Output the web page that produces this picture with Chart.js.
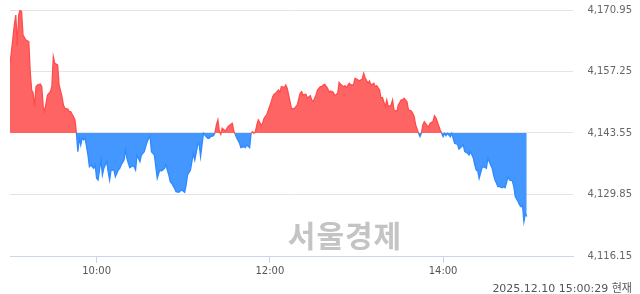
<!DOCTYPE html>
<html lang="ko">
<head>
<meta charset="utf-8">
<title>Index intraday</title>
<script src="https://cdn.jsdelivr.net/npm/chart.js@4.4.1/dist/chart.umd.min.js"></script>
<style>
    html, body { margin: 0; padding: 0; background: #ffffff; }
    .chart-wrap { position: relative; width: 640px; height: 294px; }
    .watermark {
        position: absolute; left: 245px; top: 212px; width: 200px; text-align: center;
        font-family: 'Noto Sans CJK KR', sans-serif; font-weight: 700; font-size: 30px;
        color: #c4c4c4; letter-spacing: 1px; pointer-events: none;
    }
    .stamp {
        position: absolute; right: 8px; top: 279px;
        font-family: 'DejaVu Sans', 'Noto Sans CJK KR', sans-serif; font-size: 11px;
        color: #555555; white-space: nowrap;
    }
</style>
</head>
<body>
<div class="chart-wrap">
    <canvas id="indexChartCanvas" width="640" height="294"></canvas>
    <div class="watermark">서울경제</div>
    <div class="stamp">2025.12.10 15:00:29 현재</div>
</div>
<script>
// Minutes after the 09:00 open, and the index value at that minute
const minutes = [
    0, 1, 3, 4, 5, 6, 7, 8, 9, 11,
    13, 14, 15, 16, 17, 18, 19, 21, 22, 23,
    24, 25, 26, 28, 29, 30, 31, 33, 34, 36,
    37, 38, 40, 41, 42, 44, 45, 46, 47, 48,
    49, 50, 51, 52, 54, 55, 56, 58, 59, 60,
    61, 63, 64, 65, 67, 68, 69, 70, 72, 73,
    75, 76, 77, 79, 80, 81, 82, 83, 85, 86,
    87, 88, 90, 91, 93, 94, 95, 97, 98, 99,
    100, 102, 103, 104, 105, 107, 108, 110, 111, 112,
    114, 115, 117, 118, 119, 121, 122, 123, 125, 126,
    127, 128, 130, 131, 132, 133, 134, 135, 137, 138,
    139, 141, 142, 143, 144, 145, 146, 147, 149, 150,
    151, 153, 154, 155, 156, 157, 159, 160, 162, 163,
    164, 166, 167, 168, 169, 170, 171, 172, 174, 175,
    176, 178, 179, 181, 182, 183, 184, 186, 187, 188,
    190, 191, 192, 194, 195, 197, 198, 199, 201, 202,
    203, 205, 206, 208, 209, 210, 212, 213, 215, 216,
    217, 218, 220, 221, 222, 224, 225, 227, 228, 229,
    231, 232, 233, 235, 236, 238, 239, 240, 242, 244,
    245, 246, 248, 249, 250, 252, 253, 254, 256, 257,
    258, 260, 261, 262, 264, 265, 266, 268, 269, 271,
    272, 273, 275, 276, 278, 279, 280, 281, 283, 284,
    285, 286, 287, 289, 290, 291, 293, 294, 295, 296,
    298, 299, 300, 301, 302, 303, 305, 306, 307, 308,
    310, 311, 312, 314, 315, 317, 318, 319, 321, 322,
    323, 324, 325, 327, 328, 330, 331, 332, 334, 335,
    336, 338, 339, 341, 342, 343, 345, 346, 348, 349,
    350, 352, 353, 354, 355, 356, 357, 358
];
const indexValues = [
    4159.08, 4161.66, 4167.61, 4169.84, 4163.00, 4169.84, 4170.95, 4170.57, 4165.38, 4164.27,
    4163.89, 4157.21, 4153.13, 4152.46, 4149.41, 4153.87, 4154.24, 4154.47, 4153.87, 4149.41,
    4148.30, 4150.23, 4152.02, 4152.75, 4153.87, 4160.55, 4159.08, 4158.70, 4154.24, 4151.64,
    4149.79, 4149.05, 4148.90, 4148.30, 4148.30, 4147.18, 4146.45, 4143.55, 4139.39, 4142.44,
    4140.88, 4142.44, 4141.99, 4142.44, 4138.65, 4136.04, 4136.42, 4135.69, 4136.42, 4133.46,
    4133.08, 4137.54, 4134.20, 4135.69, 4137.16, 4134.93, 4133.08, 4135.31, 4135.31, 4133.82,
    4135.31, 4135.69, 4136.42, 4137.54, 4139.77, 4137.91, 4136.80, 4135.82, 4136.27, 4136.04,
    4135.31, 4138.65, 4137.16, 4138.65, 4139.39, 4140.50, 4141.61, 4142.95, 4139.39, 4139.03,
    4138.65, 4133.46, 4134.57, 4135.31, 4135.09, 4135.69, 4136.42, 4134.20, 4132.70, 4132.35,
    4131.23, 4130.48, 4130.34, 4130.63, 4130.85, 4130.34, 4131.97, 4134.20, 4135.31, 4137.16,
    4139.03, 4137.54, 4140.88, 4141.26, 4138.27, 4140.88, 4143.48, 4143.11, 4142.37, 4142.37,
    4142.73, 4142.95, 4143.62, 4145.33, 4146.45, 4143.99, 4143.26, 4144.60, 4143.99, 4144.44,
    4144.95, 4145.49, 4145.71, 4143.99, 4143.26, 4142.50, 4141.26, 4140.28, 4140.50, 4140.28,
    4140.88, 4140.28, 4143.48, 4143.84, 4143.48, 4143.84, 4145.33, 4146.45, 4145.33, 4145.71,
    4146.83, 4147.72, 4148.68, 4150.53, 4151.64, 4152.17, 4152.40, 4153.13, 4152.62, 4153.87,
    4153.64, 4154.24, 4153.51, 4150.53, 4148.90, 4149.05, 4149.41, 4149.79, 4152.40, 4152.75,
    4152.02, 4152.17, 4151.28, 4151.86, 4150.90, 4150.53, 4152.02, 4153.13, 4153.87, 4153.87,
    4154.24, 4154.40, 4153.51, 4152.62, 4152.91, 4152.62, 4151.86, 4152.40, 4154.84, 4154.40,
    4153.87, 4154.09, 4153.64, 4154.62, 4154.24, 4154.24, 4155.73, 4155.58, 4155.18, 4155.58,
    4156.85, 4155.87, 4154.62, 4155.13, 4154.24, 4154.62, 4153.87, 4154.09, 4153.13, 4151.28,
    4151.41, 4149.41, 4150.90, 4149.41, 4149.79, 4150.90, 4148.68, 4148.30, 4149.79, 4150.90,
    4150.90, 4151.28, 4150.53, 4148.68, 4148.45, 4147.94, 4147.18, 4145.33, 4143.48, 4142.73,
    4143.48, 4145.33, 4146.07, 4145.18, 4144.95, 4145.71, 4146.07, 4147.40, 4146.96, 4146.07,
    4144.22, 4143.48, 4142.73, 4143.48, 4142.95, 4143.48, 4142.73, 4143.48, 4142.37, 4141.26,
    4141.03, 4139.99, 4140.28, 4140.88, 4139.39, 4139.03, 4138.65, 4139.39, 4137.91, 4136.42,
    4135.31, 4135.09, 4133.46, 4135.82, 4136.04, 4135.69, 4137.91, 4137.16, 4135.69, 4134.20,
    4133.08, 4131.59, 4131.59, 4131.36, 4131.59, 4131.36, 4133.82, 4133.08, 4132.86, 4131.59,
    4129.37, 4128.24, 4127.51, 4127.13, 4127.51, 4123.79, 4125.65, 4124.93
];

// Previous close, used as the red/blue split line
const prevClose = 4143.55;

// Axis ticks
const yTickValues = [4116.15, 4129.85, 4143.55, 4157.25, 4170.95];
const yTickLabels = ['4,116.15', '4,129.85', '4,143.55', '4,157.25', '4,170.95'];
const xTickMinutes = [60, 180, 300];
const xTickLabels = ['10:00', '12:00', '14:00'];
const sessionMinutes = [0, 390];

const upLine = '#ff4c4c';
const upFill = '#ff6464';
const downLine = '#2e8bff';
const downFill = '#4397ff';
const axisColor = '#c9d5ec';
const gridColor = '#e4e4e4';

const points = minutes.map((m, i) => ({ x: m, y: indexValues[i] }));

const ctx = document.getElementById('indexChartCanvas').getContext('2d');
new Chart(ctx, {
    type: 'line',
    data: {
        datasets: [{
            data: points,
            borderWidth: 1.3,
            pointRadius: 0,
            tension: 0,
            borderColor: upLine,
            segment: {
                borderColor: c => ((c.p0.parsed.y + c.p1.parsed.y) / 2 >= prevClose ? upLine : downLine)
            },
            fill: { target: { value: prevClose }, above: upFill, below: downFill }
        }]
    },
    options: {
        responsive: false,
        animation: false,
        layout: { padding: { left: 10, right: 8, top: 10, bottom: 0 } },
        plugins: { legend: { display: false }, tooltip: { enabled: false } },
        scales: {
            x: {
                type: 'linear',
                min: sessionMinutes[0],
                max: sessionMinutes[1],
                afterBuildTicks: s => { s.ticks = xTickMinutes.map(v => ({ value: v })); },
                afterFit: s => { s.height = 38; },
                grid: { drawOnChartArea: false, color: axisColor, tickLength: 7 },
                border: { color: axisColor },
                ticks: {
                    padding: 2,
                    maxRotation: 0,
                    color: '#555555',
                    font: { family: 'DejaVu Sans', size: 10 },
                    callback: v => xTickLabels[xTickMinutes.indexOf(v)]
                }
            },
            y: {
                position: 'right',
                min: yTickValues[0],
                max: yTickValues[yTickValues.length - 1],
                afterBuildTicks: s => { s.ticks = yTickValues.map(v => ({ value: v })); },
                afterFit: s => { s.width = 59; },
                grid: {
                    drawTicks: false,
                    color: c => (c.index === 0 ? axisColor : gridColor)
                },
                border: { display: false },
                ticks: {
                    crossAlign: 'far',
                    padding: 0,
                    color: '#666666',
                    font: { family: 'DejaVu Sans', size: 10 },
                    callback: (v, i) => yTickLabels[i]
                }
            }
        }
    }
});
</script>
</body>
</html>
